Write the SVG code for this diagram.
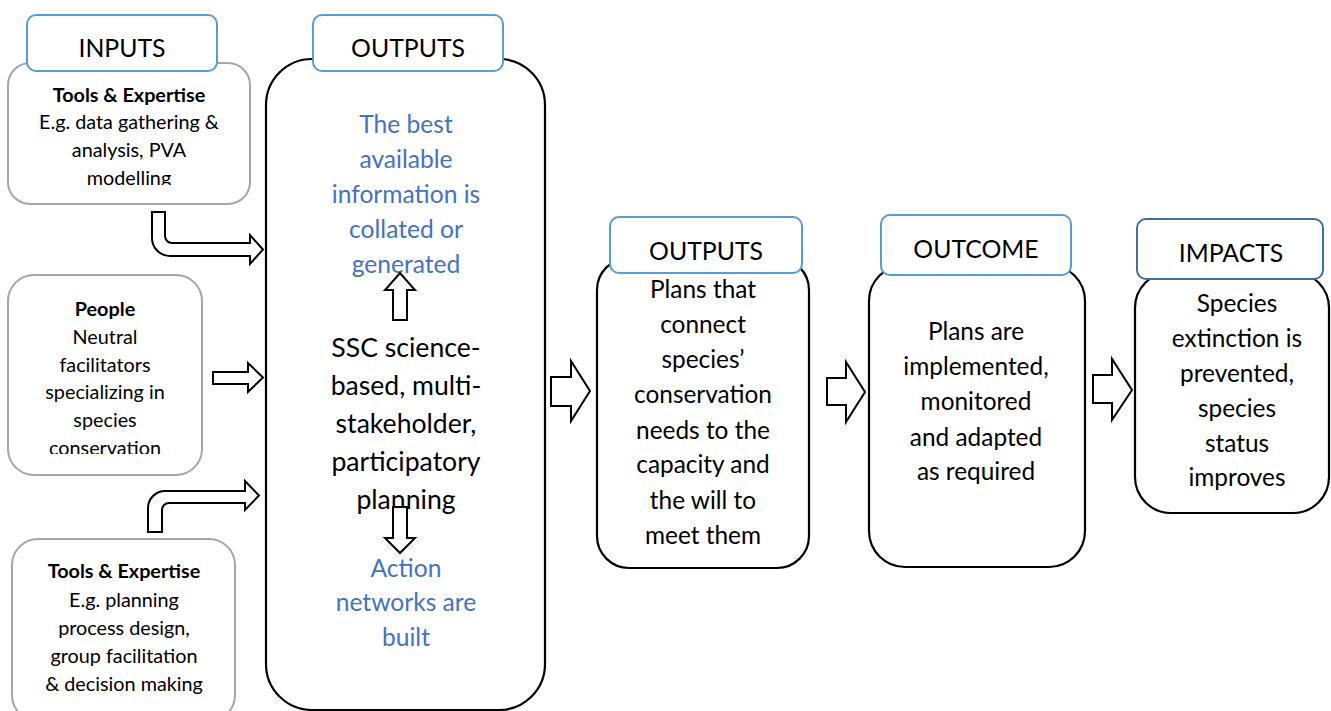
<svg xmlns="http://www.w3.org/2000/svg" width="1331" height="711" viewBox="0 0 1331 711">
  <style>
    text { font-family: Lato, "Open Sans", sans-serif; text-anchor: middle; }
    .label { fill: #fff; stroke: #5b9bd5; stroke-width: 2; }
    .label-dark { fill: #fff; stroke: #41719c; stroke-width: 2; }
    .input { fill: #fff; stroke: #a6a6a6; stroke-width: 2; }
    .stage { fill: #fff; stroke: #000; stroke-width: 2.2; }
    .arrow { fill: #fff; stroke: #000; stroke-width: 2; stroke-linejoin: miter; }
    .title { font-size: 24.8px; fill: #000; }
    .small { font-size: 19.8px; fill: #000; }
    .bold { font-weight: bold; }
    .blue { font-size: 24.6px; fill: #4472c4; }
    .mid { font-size: 24.4px; fill: #000; }
    .big { font-size: 26.6px; fill: #000; }
  </style>
  <defs>
    <clipPath id="clip-tools1"><rect x="8" y="63" width="242" height="122"/></clipPath>
    <clipPath id="clip-people"><rect x="8" y="275" width="194" height="179"/></clipPath>
  </defs>

  <!-- input boxes -->
  <g id="tools-data">
    <rect class="input" x="8" y="63" width="242" height="141" rx="22"/>
    <g clip-path="url(#clip-tools1)">
      <text class="small bold" x="129" y="102">Tools &amp; Expertise</text>
      <text class="small" x="129" y="129">E.g. data gathering &amp;</text>
      <text class="small" x="129" y="157">analysis, PVA</text>
      <text class="small" x="129" y="185">modelling</text>
    </g>
  </g>

  <g id="inputs-label">
    <rect class="label" x="27" y="15" width="190" height="56" rx="9"/>
    <text class="title" x="122" y="57">INPUTS</text>
  </g>

  <g id="people">
    <rect class="input" x="8" y="275" width="194" height="200" rx="26"/>
    <g clip-path="url(#clip-people)">
      <text class="small bold" x="105" y="316">People</text>
      <text class="small" x="105" y="344">Neutral</text>
      <text class="small" x="105" y="372">facilitators</text>
      <text class="small" x="105" y="399">specializing in</text>
      <text class="small" x="105" y="427">species</text>
      <text class="small" x="105" y="455">conservation</text>
    </g>
  </g>

  <g id="tools-planning">
    <rect class="input" x="12" y="539" width="223" height="182" rx="26"/>
    <text class="small bold" x="124" y="578">Tools &amp; Expertise</text>
    <text class="small" x="124" y="607">E.g. planning</text>
    <text class="small" x="124" y="635">process design,</text>
    <text class="small" x="124" y="663">group facilitation</text>
    <text class="small" x="124" y="691">&amp; decision making</text>
  </g>

  <!-- central planning process -->
  <g id="process">
    <rect class="stage" x="266" y="59" width="279" height="651" rx="46"/>
    <text class="blue" x="406" y="133">The best</text>
    <text class="blue" x="406" y="168">available</text>
    <text class="blue" x="406" y="203">information is</text>
    <text class="blue" x="406" y="238">collated or</text>
    <text class="blue" x="406" y="273">generated</text>
    <text class="big" x="406" y="357">SSC science-</text>
    <text class="big" x="406" y="395">based, multi-</text>
    <text class="big" x="406" y="433">stakeholder,</text>
    <text class="big" x="406" y="471">participatory</text>
    <text class="big" x="406" y="509">planning</text>
    <text class="blue" x="406" y="577">Action</text>
    <text class="blue" x="406" y="611">networks are</text>
    <text class="blue" x="406" y="646">built</text>
  </g>

  <g id="outputs-label">
    <rect class="label" x="313" y="15" width="190" height="56" rx="9"/>
    <text class="title" x="408" y="57">OUTPUTS</text>
  </g>

  <!-- plans -->
  <g id="plans">
    <rect class="stage" x="597" y="258" width="212" height="310" rx="32"/>
    <text class="mid" x="703" y="298">Plans that</text>
    <text class="mid" x="703" y="333">connect</text>
    <text class="mid" x="703" y="368">species’</text>
    <text class="mid" x="703" y="403">conservation</text>
    <text class="mid" x="703" y="439">needs to the</text>
    <text class="mid" x="703" y="473">capacity and</text>
    <text class="mid" x="703" y="509">the will to</text>
    <text class="mid" x="703" y="544">meet them</text>
    <rect class="label" x="610" y="217" width="192" height="56" rx="9"/>
    <text class="title" x="706" y="260">OUTPUTS</text>
  </g>

  <!-- outcome -->
  <g id="outcome">
    <rect class="stage" x="869" y="265" width="216" height="302" rx="36"/>
    <text class="mid" x="976" y="340">Plans are</text>
    <text class="mid" x="976" y="375">implemented,</text>
    <text class="mid" x="976" y="410">monitored</text>
    <text class="mid" x="976" y="446">and adapted</text>
    <text class="mid" x="976" y="480">as required</text>
    <rect class="label" x="881" y="215" width="190" height="60" rx="9"/>
    <text class="title" x="976" y="258">OUTCOME</text>
  </g>

  <!-- impacts -->
  <g id="impacts">
    <rect class="stage" x="1135" y="272" width="194" height="241" rx="36"/>
    <text class="mid" x="1237" y="312">Species</text>
    <text class="mid" x="1237" y="347">extinction is</text>
    <text class="mid" x="1237" y="382">prevented,</text>
    <text class="mid" x="1237" y="417">species</text>
    <text class="mid" x="1237" y="452">status</text>
    <text class="mid" x="1237" y="486">improves</text>
    <rect class="label-dark" x="1137" y="219" width="186" height="60" rx="9"/>
    <text class="title" x="1231" y="262">IMPACTS</text>
  </g>

  <!-- block arrows -->
  <g id="connectors">
    <path class="arrow" d="M152,212 H165 V236 A7,7 0 0 0 172,243 H250 V235 L263,249.5 L250,264 V256 H170 A18,18 0 0 1 152,238 Z"/>
    <path class="arrow" d="M213,372 H248 V363 L263,377.5 L248,392 V384 H213 Z"/>
    <path class="arrow" d="M148,532 V508 A17,17 0 0 1 165,491 H245 V481 L259,495.5 L245,510 V503 H169 A7,7 0 0 0 162,510 V532 Z"/>
    <path class="arrow" d="M393,320 V290 H385 L400,273 L415,290 H407 V320 Z"/>
    <path class="arrow" d="M393,507 V538 H385 L400,553 L415,538 H407 V507 Z"/>
    <path class="arrow" d="M551,377 H571 V361 L590,391 L571,421 V406 H551 Z"/>
    <path class="arrow" d="M827,378 H846 V362 L865,392 L846,422 V405 H827 Z"/>
    <path class="arrow" d="M1093,375 H1112 V359 L1132,390 L1112,420 V403 H1093 Z"/>
  </g>
</svg>
